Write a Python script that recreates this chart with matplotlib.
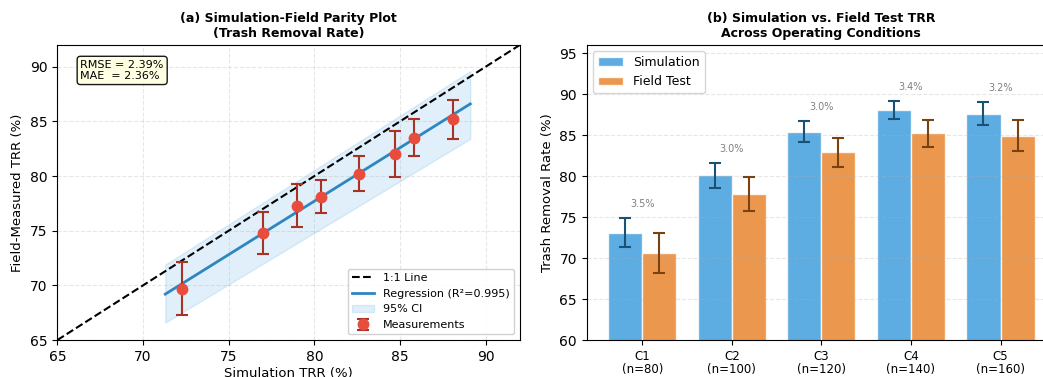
import numpy as np
import matplotlib
matplotlib.use('Agg')
import matplotlib.pyplot as plt

plt.rc('font', size=9)
plt.rc('axes', titlesize=9, labelsize=9.5)
plt.rc('xtick', labelsize=10)
plt.rc('ytick', labelsize=10)
plt.rc('legend', fontsize=8)

# (a) parity plot data
sim_trr = [72.3, 77.0, 79.0, 80.4, 82.6, 84.7, 85.8, 88.1]
field_trr = [69.7, 74.8, 77.3, 78.1, 80.2, 82.0, 83.5, 85.2]
field_err = [2.4, 1.9, 2.0, 1.5, 1.6, 2.1, 1.7, 1.8]
reg_x = [71.3, 89.1]
reg_y = [69.2, 86.6]
ci_lo = [66.6, 83.4]
ci_hi = [71.9, 89.6]
rmse, mae, r2 = 2.39, 2.36, 0.995

# (b) bar chart data
conditions = ['C1\n(n=80)', 'C2\n(n=100)', 'C3\n(n=120)', 'C4\n(n=140)', 'C5\n(n=160)']
sim_mean = [73.1, 80.1, 85.4, 88.0, 87.6]
sim_std = [1.8, 1.5, 1.3, 1.1, 1.4]
field_mean = [70.6, 77.8, 82.9, 85.2, 84.9]
field_std = [2.4, 2.1, 1.8, 1.6, 1.9]
gap_pct = [3.5, 3.0, 3.0, 3.4, 3.2]

fig = plt.figure(figsize=(10.43, 3.77), dpi=100)
ax1 = fig.add_axes([0.055, 0.098, 0.4435, 0.783])
ax2 = fig.add_axes([0.5625, 0.098, 0.45, 0.783])

# ---- (a)
ax1.plot([65, 92], [65, 92], 'k--', lw=1.5, label='1:1 Line', zorder=2)
ax1.plot(reg_x, reg_y, color='#2e86c1', lw=2, label='Regression (R\u00b2=%.3f)' % r2, zorder=3)
ax1.fill_between(reg_x, ci_lo, ci_hi, color='#3498db', alpha=0.15, label='95% CI', zorder=1)
ax1.errorbar(sim_trr, field_trr, yerr=field_err, fmt='o', color='#e74c3c', ms=7.5,
             ecolor='#a93226', elinewidth=1.5, capsize=4, capthick=1.5,
             label='Measurements', zorder=4)
ax1.set_xlim(65, 92)
ax1.set_ylim(65, 92)
ax1.set_xlabel('Simulation TRR (%)', labelpad=2)
ax1.set_ylabel('Field-Measured TRR (%)')
ax1.set_title('(a) Simulation-Field Parity Plot\n(Trash Removal Rate)', fontweight='bold')
ax1.grid(True, ls='--', alpha=0.3)
ax1.legend(loc='lower right', framealpha=0.9)
ax1.text(0.05, 0.95, 'RMSE = %.2f%%\nMAE  = %.2f%%' % (rmse, mae), transform=ax1.transAxes,
         va='top', fontsize=8,
         bbox=dict(boxstyle='round,pad=0.3', facecolor='lightyellow', edgecolor='black', alpha=0.9))

# ---- (b)
x = np.arange(len(conditions))
w = 0.38
ax2.bar(x - w/2, sim_mean, w, yerr=sim_std, color='#3498db', alpha=0.8, edgecolor='white',
        label='Simulation', capsize=4, error_kw=dict(ecolor='#1a5276', elinewidth=1.5, capthick=1.5))
ax2.bar(x + w/2, field_mean, w, yerr=field_std, color='#e67e22', alpha=0.8, edgecolor='white',
        label='Field Test', capsize=4, error_kw=dict(ecolor='#784212', elinewidth=1.5, capthick=1.5))
for i in range(len(conditions)):
    ax2.text(x[i], sim_mean[i] + sim_std[i] + 1.1, '%.1f%%' % gap_pct[i], ha='center', va='bottom',
             fontsize=7, color='gray')
ax2.set_xticks(x)
ax2.set_xticklabels(conditions, fontsize=8.5, linespacing=1.05)
ax2.set_xlim(-0.62, 4.62)
ax2.set_ylim(60, 96)
ax2.set_ylabel('Trash Removal Rate (%)')
ax2.set_title('(b) Simulation vs. Field Test TRR\nAcross Operating Conditions', fontweight='bold')
ax2.grid(True, axis='y', ls='--', alpha=0.3)
ax2.legend(loc='upper left', fontsize=9)

fig.savefig('out.png', dpi=100)
